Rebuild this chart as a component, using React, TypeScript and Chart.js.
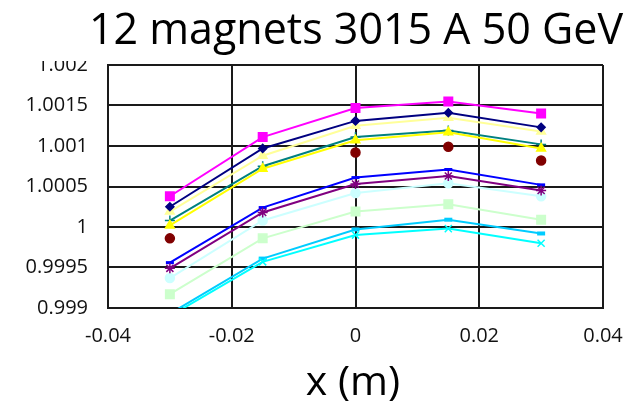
import React, { useEffect, useRef } from "react";
import { Chart, registerables } from "chart.js";

Chart.register(...registerables);

// Positions along the beam (m)
const positions = [-0.03, -0.015, 0, 0.015, 0.03];

// Relative field per magnet at each position
const navySeries = [1.00025, 1.00097, 1.00131, 1.00141, 1.00123];
const pinkSeries = [1.00038, 1.00111, 1.00147, 1.00155, 1.0014];
const yellowSeries = [1.00002, 1.00072, 1.00107, 1.00117, 1.00097];
const cyanSeries = [0.9989, 0.99957, 0.9999, 0.99998, 0.9998];
const purpleSeries = [0.99949, 1.00018, 1.00053, 1.00063, 1.00045];
const darkRedSeries = [0.99986, null, 1.00092, 1.00099, 1.00082];
const tealSeries = [1.00008, 1.00075, 1.00111, 1.00119, 1.00102];
const blueSeries = [0.99956, 1.00024, 1.00061, 1.00071, 1.00052];
const skySeries = [0.99893, 0.99961, 0.99997, 1.00009, 0.99992];
const lightCyanSeries = [0.99937, 1.00008, 1.00042, 1.00054, 1.00038];
const lightGreenSeries = [0.99917, 0.99986, 1.00019, 1.00028, 1.00009];
const lightYellowSeries = [1.00019, 1.00088, 1.00125, 1.00135, 1.00118];

const xTickValues = [-0.04, -0.02, 0, 0.02, 0.04];
const xTickLabels = ["-0.04", "-0.02", "0", "0.02", "0.04"];
const yTickValues = [0.999, 0.9995, 1, 1.0005, 1.001, 1.0015, 1.002];
const yTickLabels = ["0.999", "0.9995", "1", "1.0005", "1.001", "1.0015", "1.002"];

const titleText = "12 magnets 3015 A 50 GeV";
const xAxisTitle = "x (m)";

const FONT = '"Open Sans", "DejaVu Sans", sans-serif';

function series(
  values: (number | null)[],
  color: string,
  pointStyle: string,
  radius: number,
  extra: Record<string, unknown> = {}
) {
  return {
    data: positions.map((x, i) => ({ x, y: values[i] })),
    borderColor: color,
    backgroundColor: color,
    pointBackgroundColor: color,
    pointBorderColor: color,
    borderWidth: 2,
    pointStyle,
    pointRadius: radius,
    pointBorderWidth: 1.5,
    showLine: true,
    ...extra,
  };
}

const headingPlugin = {
  id: "heading",
  afterDraw(chart: Chart) {
    const { ctx } = chart;
    ctx.save();
    ctx.fillStyle = "#ffffff";
    ctx.fillRect(0, 0, 106, 61);
    ctx.fillStyle = "#000000";
    ctx.textAlign = "center";
    ctx.textBaseline = "alphabetic";
    ctx.font = `43px ${FONT}`;
    ctx.fillText(titleText, 356, 44);
    ctx.font = `41px ${FONT}`;
    ctx.fillText(xAxisTitle, 353, 395);
    ctx.restore();
  },
};

export default function App() {
  const canvasRef = useRef<HTMLCanvasElement | null>(null);

  useEffect(() => {
    if (!canvasRef.current) return;
    const chart = new Chart(canvasRef.current, {
      type: "scatter",
      data: {
        datasets: [
          series(navySeries, "#000080", "rectRot", 4),
          series(pinkSeries, "#FF00FF", "rect", 6),
          series(yellowSeries, "#FFFF00", "triangle", 5),
          series(cyanSeries, "#00FFFF", "crossRot", 5),
          series(purpleSeries, "#800080", "star", 5),
          series(darkRedSeries, "#800000", "circle", 4.5, { showLine: false }),
          series(tealSeries, "#008080", "cross", 5),
          series(blueSeries, "#0000FF", "line", 4, { pointBorderWidth: 3 }),
          series(skySeries, "#00CCFF", "line", 4, { pointBorderWidth: 4 }),
          series(lightCyanSeries, "#CCFFFF", "circle", 4.5),
          series(lightGreenSeries, "#CCFFCC", "rect", 6),
          series(lightYellowSeries, "#FFFF99", "triangle", 5),
        ] as any,
      },
      options: {
        animation: false,
        responsive: false,
        events: [],
        layout: { padding: { top: 65, right: 38, bottom: 0, left: 0 } },
        plugins: {
          legend: { display: false },
          title: { display: false },
          tooltip: { enabled: false },
        },
        scales: {
          x: {
            type: "linear",
            min: -0.04,
            max: 0.04,
            afterFit(scale: any) {
              scale.height = 404 - 308;
            },
            afterBuildTicks(scale: any) {
              scale.ticks = xTickValues.map((value) => ({ value }));
            },
            ticks: {
              padding: 16,
              color: "#111111",
              font: { family: FONT, size: 20 },
              maxRotation: 0,
              callback: (_v: any, i: number) => xTickLabels[i],
            },
            grid: { color: "#1a1a1a", lineWidth: 2, drawTicks: false },
            border: { color: "#1a1a1a", width: 2 },
          },
          y: {
            type: "linear",
            min: 0.999,
            max: 1.002,
            afterFit(scale: any) {
              scale.width = 108;
            },
            afterBuildTicks(scale: any) {
              scale.ticks = yTickValues.map((value) => ({ value }));
            },
            ticks: {
              padding: 20,
              color: "#111111",
              font: { family: FONT, size: 20 },
              callback: (_v: any, i: number) => yTickLabels[i],
            },
            grid: { color: "#1a1a1a", lineWidth: 2, drawTicks: false },
            border: { color: "#1a1a1a", width: 2 },
          },
        },
      } as any,
      plugins: [headingPlugin],
    });
    return () => chart.destroy();
  }, []);

  return (
    <div style={{ position: "absolute", left: 0, top: 0, width: 641, height: 404, background: "#ffffff" }}>
      <canvas ref={canvasRef} width={641} height={404} />
    </div>
  );
}
